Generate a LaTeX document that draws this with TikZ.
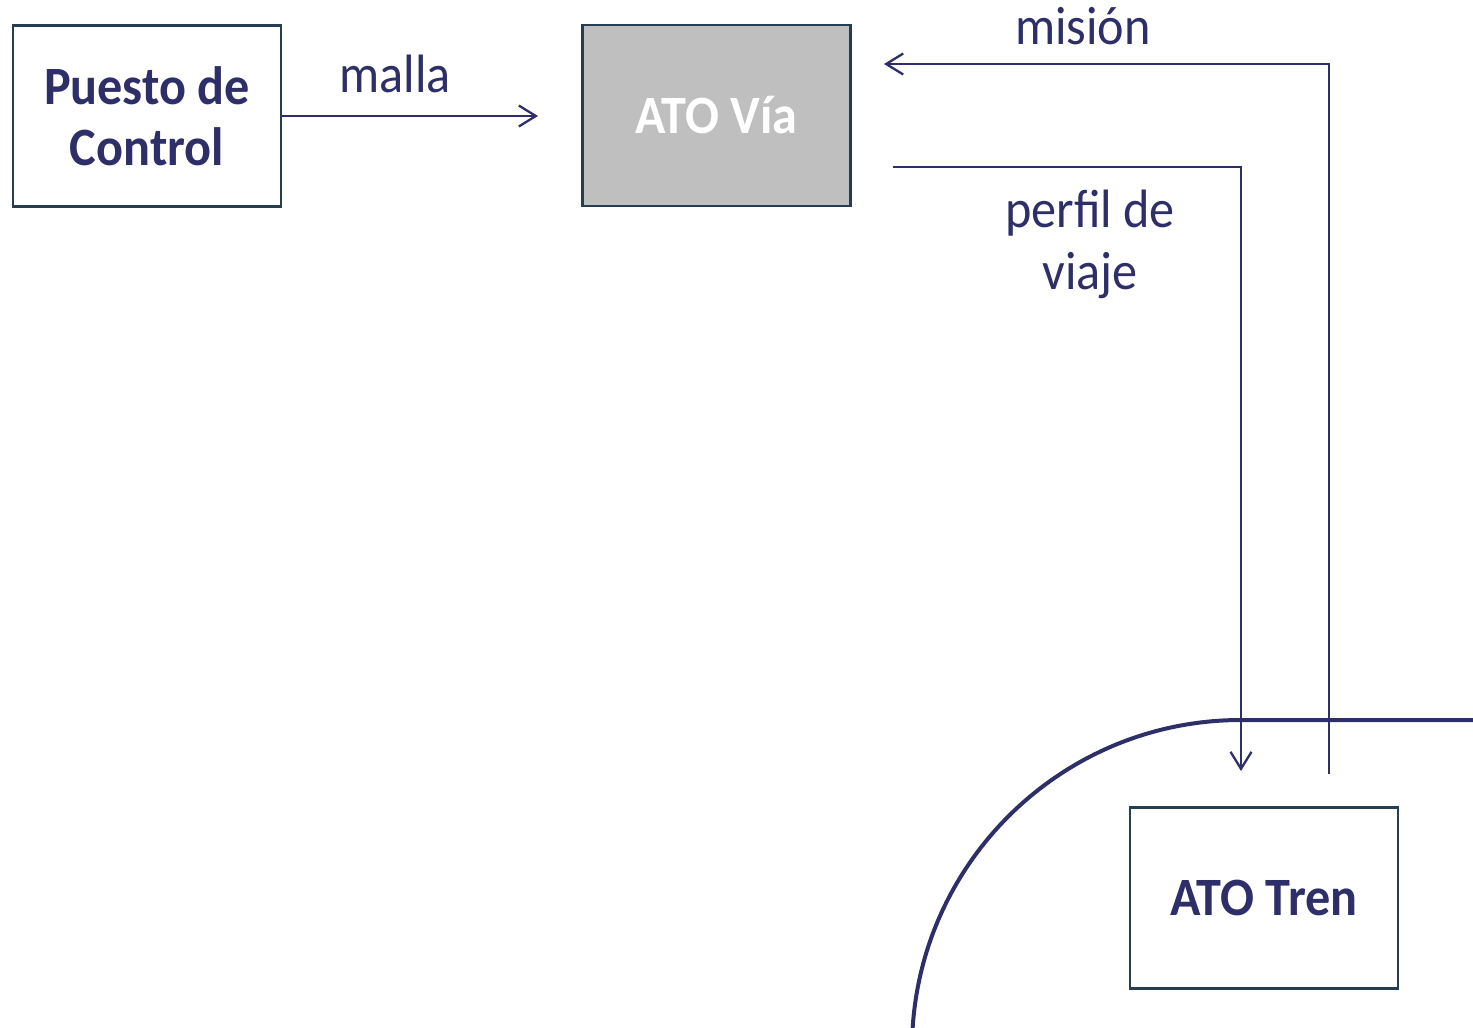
\documentclass[tikz,border=0pt]{standalone}
\usepackage{fontspec}
\setmainfont[FakeStretch=0.93]{Carlito}
\usetikzlibrary{arrows.meta}
\definecolor{navy}{RGB}{46,46,104}
\definecolor{boxline}{RGB}{38,62,84}
\definecolor{boxfill}{RGB}{191,191,191}
\begin{document}
\begin{tikzpicture}[x=1pt,y=-1pt,
  box/.style={draw=boxline, line width=2.2pt, minimum width=268pt, minimum height=181pt,
    inner sep=0pt, font=\fontsize{54}{61}\selectfont\bfseries, text=navy, align=center},
  lbl/.style={font=\fontsize{54}{62}\selectfont, text=navy, align=center, inner sep=0pt},
  conn/.style={draw=navy, line width=2.3pt,
    -{Straight Barb[length=17pt,width=21pt,line width=2.3pt]}},
  track/.style={draw=navy, line width=4pt}]
\useasboundingbox (0,0) rectangle (1473,1028);
\node[box] (pc) at (147,116) {Puesto de\\Control};
\node[box, fill=boxfill, text=white] (via) at (716.5,115.5) {ATO Vía};
\node[box] (tren) at (1264,898) {ATO Tren};
\coordinate (mallaend) at (538,116);
\coordinate (misstart) at (1329,774);
\coordinate (misend) at (884,64);
\coordinate (perstart) at (893,167);
\coordinate (perend) at (1241,771);
\coordinate (trackstart) at (1473,720);
\coordinate (trackcorner) at (1241,720);
\draw[conn] (pc.east) -- (mallaend);
\draw[conn] (misstart) |- (misend);
\draw[conn] (perstart) -| (perend);
\draw[track] (trackstart) -- (trackcorner) arc[start angle=-90, end angle=-180, radius=329];
\node[lbl, anchor=base] (lmalla) at (395,92) {malla};
\node[lbl, anchor=base] (lmision) at (1083,44) {misión};
\node[lbl] (lperfil) at (1090,244) {perfil de\\viaje};
\end{tikzpicture}
\end{document}
